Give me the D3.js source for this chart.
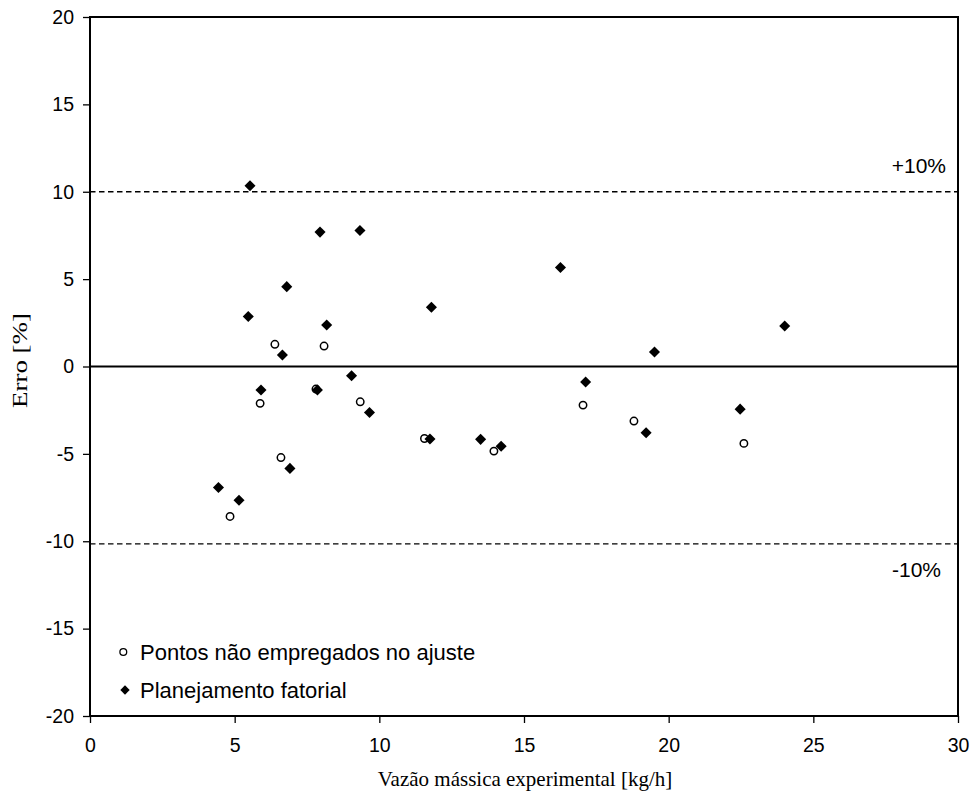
<!DOCTYPE html>
<html>
<head>
<meta charset="utf-8">
<script src="https://cdn.jsdelivr.net/npm/d3@7"></script>
<style>
  body { margin: 0; background: #fff; }
  svg { display: block; }
  .tick text { font-family: "Liberation Sans", Arial, sans-serif; font-size: 19.5px; fill: #000; }
</style>
</head>
<body>
<svg id="chart" width="973" height="794"></svg>
<script>
// Vazão mássica experimental [kg/h] vs. erro [%]
const fatorialX = [5.53, 7.95, 9.33, 6.80, 5.47, 8.18, 11.80, 6.65, 9.04, 5.91, 7.86, 9.66,
                   11.75, 6.91, 16.26, 19.51, 17.13, 19.22, 13.50, 14.21, 24.01, 22.47, 4.44, 5.15];
const fatorialY = [10.34, 7.69, 7.78, 4.57, 2.86, 2.38, 3.39, 0.66, -0.53, -1.35, -1.35, -2.63,
                   -4.15, -5.83, 5.66, 0.83, -0.89, -3.79, -4.17, -4.56, 2.32, -2.44, -6.92, -7.65];

const naoEmpregX = [6.39, 8.09, 5.88, 9.34, 6.60, 7.81, 11.56, 17.04, 18.80, 13.96, 22.60, 4.84];
const naoEmpregY = [1.27, 1.17, -2.11, -2.02, -5.21, -1.29, -4.12, -2.21, -3.12, -4.84, -4.40, -8.58];

const xTicks = [0, 5, 10, 15, 20, 25, 30];
const yTicks = [-20, -15, -10, -5, 0, 5, 10, 15, 20];
const limiteSup = 10;
const limiteInf = -10.15;

const svg = d3.select("#chart");
const L = 90, R = 958, T = 17, B = 716;
const sans = "Liberation Sans, Arial, sans-serif";
const serif = "Liberation Serif, Times New Roman, serif";

const x = d3.scaleLinear().domain([0, 30]).range([L, R]);
const y = d3.scaleLinear().domain([-20, 20]).range([B, T]);

// axes (plain hyphen for negatives)
const fmt = d => String(d);
const xAxis = svg.append("g").attr("transform", `translate(0,${B})`)
  .call(d3.axisBottom(x).tickValues(xTicks).tickFormat(fmt).tickSize(7).tickPadding(15));
const yAxis = svg.append("g").attr("transform", `translate(${L},0)`)
  .call(d3.axisLeft(y).tickValues(yTicks).tickFormat(fmt).tickSize(7).tickPadding(9));
[xAxis, yAxis].forEach(a => {
  a.select(".domain").remove();
  a.selectAll(".tick line").attr("stroke", "#000").attr("stroke-width", 1.3);
});

// reference lines
svg.append("line").attr("x1", L).attr("x2", R).attr("y1", y(0)).attr("y2", y(0))
  .attr("stroke", "#000").attr("stroke-width", 2);
[limiteSup, limiteInf].forEach(v => {
  svg.append("line").attr("x1", L).attr("x2", R).attr("y1", y(v)).attr("y2", y(v))
    .attr("stroke", "#000").attr("stroke-width", 1.3).attr("stroke-dasharray", "5.5,3.5");
});

// plot frame
svg.append("rect").attr("x", L).attr("y", T).attr("width", R - L).attr("height", B - T)
  .attr("fill", "none").attr("stroke", "#000").attr("stroke-width", 2);

// band labels
svg.append("text").attr("x", 946).attr("y", 173)
  .attr("text-anchor", "end").attr("font-family", sans)
  .attr("font-size", 21).text("+10%");
svg.append("text").attr("x", 941).attr("y", 577)
  .attr("text-anchor", "end").attr("font-family", sans)
  .attr("font-size", 21).text("-10%");

// series: open circles
svg.append("g").selectAll("circle").data(naoEmpregX.map((v, i) => [v, naoEmpregY[i]]))
  .join("circle")
  .attr("cx", d => x(d[0])).attr("cy", d => y(d[1])).attr("r", 3.7)
  .attr("fill", "#fff").attr("stroke", "#000").attr("stroke-width", 1.5);

// series: filled diamonds
const diamond = d3.symbol().type(d3.symbolDiamond2).size(78);
svg.append("g").selectAll("path").data(fatorialX.map((v, i) => [v, fatorialY[i]]))
  .join("path")
  .attr("transform", d => `translate(${x(d[0])},${y(d[1])})`)
  .attr("d", diamond).attr("fill", "#000");

// legend
const leg = svg.append("g").attr("font-family", sans).attr("font-size", 22);
leg.append("circle").attr("cx", 123.3).attr("cy", 652).attr("r", 3.4)
  .attr("fill", "#fff").attr("stroke", "#000").attr("stroke-width", 1.3);
leg.append("text").attr("x", 140).attr("y", 652).attr("dy", "0.35em").text("Pontos não empregados no ajuste");
leg.append("path").attr("transform", "translate(125,690)")
  .attr("d", d3.symbol().type(d3.symbolDiamond2).size(56)).attr("fill", "#000");
leg.append("text").attr("x", 140).attr("y", 690).attr("dy", "0.35em").text("Planejamento fatorial");

// axis titles
svg.append("text").attr("x", 525).attr("y", 786).attr("text-anchor", "middle")
  .attr("font-family", serif).attr("font-size", 21)
  .text("Vazão mássica experimental [kg/h]");
svg.append("text").attr("transform", "translate(26.5,360.5) rotate(-90)")
  .attr("text-anchor", "middle")
  .attr("font-family", serif).attr("font-size", 21)
  .attr("textLength", 95).attr("lengthAdjust", "spacingAndGlyphs")
  .text("Erro [%]");
</script>
</body>
</html>
